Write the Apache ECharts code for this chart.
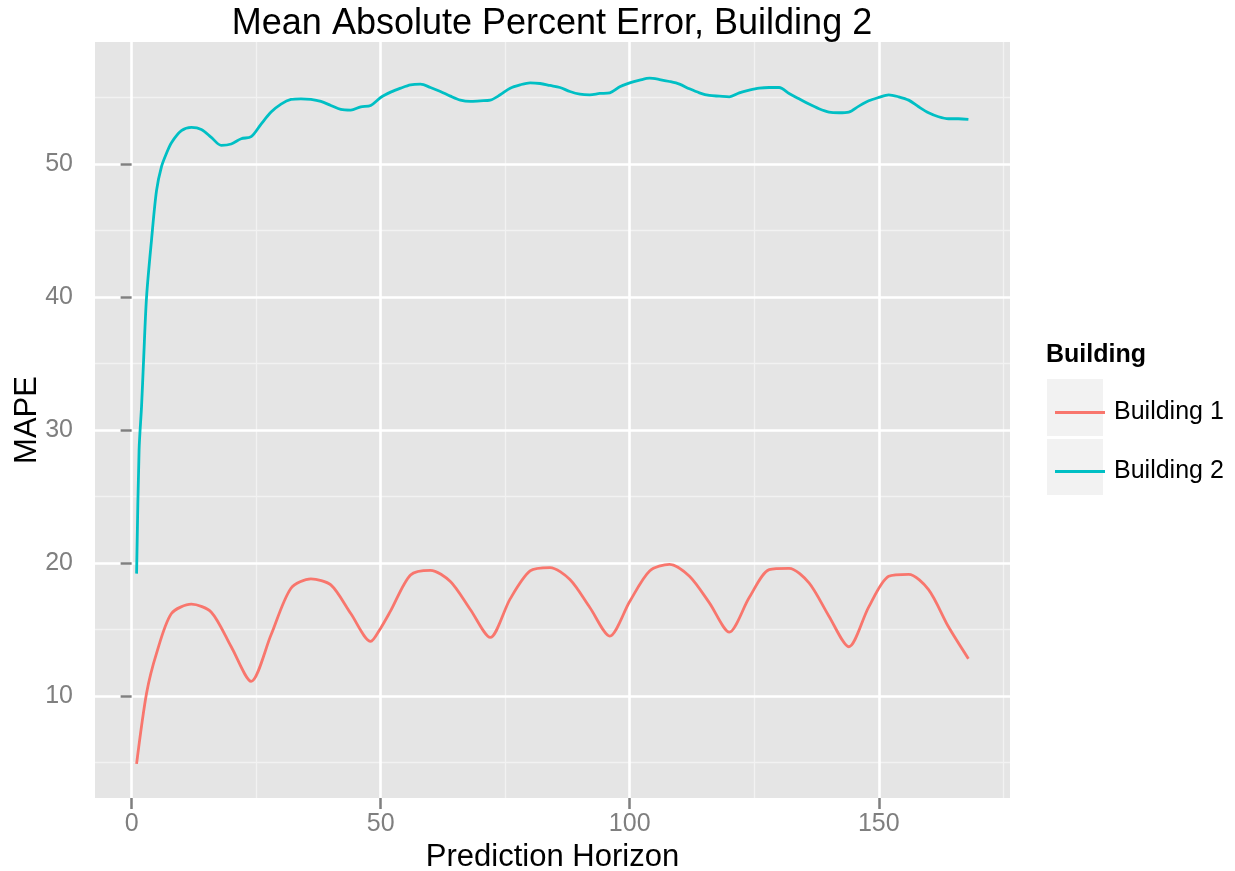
<!DOCTYPE html>
<html>
<head>
<meta charset="utf-8">
<script src="https://cdn.jsdelivr.net/npm/echarts@6/dist/echarts.min.js"></script>
<style>
html,body{margin:0;padding:0;background:#fff;}
#chart{width:1235px;height:871px;}
</style>
</head>
<body>
<div id="chart"></div>
<script>
// ---- data ----
const b1Horizon = [1,3,5,8,12,16,20,24,28,32,36,40,44,48,50,52,56,60,64,68,72,76,80,84,88,92,96,100,104,108,112,116,120,124,128,132,136,140,144,148,152,156,160,164,168];
const b1Mape    = [4.9,10.2,13.2,16.2,16.9,16.3,13.7,11.1,14.6,18.1,18.8,18.35,16.2,14.1,15.1,16.4,19.1,19.45,18.6,16.5,14.4,17.3,19.4,19.65,18.75,16.65,14.5,17.1,19.4,19.9,19.0,17.0,14.8,17.4,19.5,19.6,18.5,16.0,13.7,16.7,19.0,19.15,18.0,15.2,12.8];

const b2Horizon = [1,1.5,2,2.4,3,4,5,6,7,8,10,12,14,16,18,20,22,24,26,28,30,32,34,36,38,40,42,44,46,48,50,52,54,56,58,60,62,64,66,68,70,72,74,76,78,80,82,84,86,88,90,92,94,96,98,100,102,104,106,108,110,112,114,116,118,120,122,124,126,128,130,132,134,136,138,140,142,144,146,148,150,152,154,156,158,160,162,164,166,168];
const b2Mape    = [19.2,28.5,31.8,35.2,40.0,44.3,48.0,49.8,50.8,51.6,52.5,52.75,52.6,52.0,51.4,51.5,51.9,52.05,53.0,53.9,54.5,54.85,54.9,54.85,54.7,54.4,54.1,54.05,54.3,54.4,55.0,55.4,55.7,55.95,56.0,55.75,55.45,55.1,54.8,54.7,54.75,54.8,55.2,55.7,55.95,56.1,56.05,55.9,55.75,55.45,55.25,55.2,55.3,55.35,55.8,56.1,56.3,56.45,56.35,56.2,56.0,55.65,55.35,55.15,55.1,55.05,55.35,55.55,55.7,55.75,55.75,55.3,54.9,54.5,54.15,53.9,53.85,53.9,54.35,54.75,55.0,55.2,55.05,54.8,54.3,53.85,53.55,53.4,53.4,53.35];

const xMajorTicks = [0, 50, 100, 150];
const xMinorTicks = [25, 75, 125, 175];
const yMajorTicks = [10, 20, 30, 40, 50];
const yMinorTicks = [5, 15, 25, 35, 45, 55];

const seriesNames = ['Building 1', 'Building 2'];
const seriesColors = ['#F8766D', '#00BFC4'];
const titleText = 'Mean Absolute Percent Error, Building 2';
const xTitle = 'Prediction Horizon';
const yTitle = 'MAPE';
const legendTitle = 'Building';

const xMin = -7.35, xMax = 176.35;
const yMin = 2.33, yMax = 59.17;

const pairs = (xs, ys) => xs.map((x, i) => [x, ys[i]]);

const chart = echarts.init(document.getElementById('chart'), null, {renderer: 'canvas'});
const FONT = 'Liberation Sans, Arial, Helvetica, sans-serif';
const gridPos = {left: 95, right: 225, top: 42, bottom: 73};
const TICK = {show: true, length: 11, lineStyle: {color: '#7F7F7F', width: 2.5}};
const LABEL = {fontFamily: FONT, fontSize: 25, color: '#7F7F7F'};

function minorAxis(vals, mn, mx) {
  return {
    type: 'value', min: mn, max: mx, gridIndex: 0, z: 0,
    axisLine: {show: false},
    axisTick: {show: false, customValues: vals},
    axisLabel: {show: false, customValues: vals},
    splitLine: {show: true, lineStyle: {color: '#F2F2F2', width: 1.3}}
  };
}

const option = {
  animation: false,
  backgroundColor: '#ffffff',
  title: {
    text: titleText,
    left: 547, top: 1, textAlign: 'center',
    textStyle: {fontFamily: FONT, fontSize: 36, fontWeight: 'normal', color: '#000'}
  },
  grid: Object.assign({show: true, backgroundColor: '#E5E5E5', borderWidth: 0,
                       containLabel: false, outerBoundsMode: 'none'}, gridPos),
  xAxis: [
    minorAxis(xMinorTicks, xMin, xMax),
    {
      type: 'value', min: xMin, max: xMax, gridIndex: 0, z: 1, position: 'bottom',
      axisLine: {show: false},
      axisTick: Object.assign({customValues: xMajorTicks}, TICK),
      axisLabel: Object.assign({show: true, customValues: xMajorTicks, margin: 14}, LABEL),
      splitLine: {show: true, lineStyle: {color: '#FFFFFF', width: 2.6}},
      name: xTitle, nameLocation: 'middle', nameGap: 41,
      nameTextStyle: {fontFamily: FONT, fontSize: 31, color: '#000'}
    }
  ],
  yAxis: [
    minorAxis(yMinorTicks, yMin, yMax),
    {
      type: 'value', min: yMin, max: yMax, gridIndex: 0, z: 1, position: 'left',
      axisLine: {show: false},
      axisTick: Object.assign({customValues: yMajorTicks}, TICK),
      axisLabel: Object.assign({show: true, customValues: yMajorTicks, margin: 22}, LABEL),
      splitLine: {show: true, lineStyle: {color: '#FFFFFF', width: 2.6}},
      name: yTitle, nameLocation: 'middle', nameGap: 52, nameRotate: 90, nameMoveOverlap: false,
      nameTextStyle: {fontFamily: FONT, fontSize: 31, color: '#000'}
    }
  ],
  legend: [
    {
      orient: 'vertical', left: 1050, top: 395, icon: 'rect',
      itemWidth: 50, itemHeight: 3, data: [seriesNames[0]],
      textStyle: {fontFamily: FONT, fontSize: 25, color: '#000', padding: [0, 0, 0, 4]}
    },
    {
      orient: 'vertical', left: 1050, top: 454, icon: 'rect',
      itemWidth: 50, itemHeight: 3, data: [seriesNames[1]],
      textStyle: {fontFamily: FONT, fontSize: 25, color: '#000', padding: [0, 0, 0, 4]}
    }
  ],
  graphic: [
    {type: 'text', left: 1046, top: 343, style: {text: legendTitle, font: 'bold 25px ' + FONT, fill: '#000'}},
    {type: 'rect', left: 1047, top: 379, z: -1, shape: {width: 56, height: 57}, style: {fill: '#F2F2F2'}},
    {type: 'rect', left: 1047, top: 439, z: -1, shape: {width: 56, height: 56}, style: {fill: '#F2F2F2'}}
  ],
  series: [
    {
      name: seriesNames[0], type: 'line', xAxisIndex: 1, yAxisIndex: 1,
      data: pairs(b1Horizon, b1Mape), showSymbol: false, symbol: 'none', smooth: 0.28,
      lineStyle: {color: seriesColors[0], width: 2.8}, itemStyle: {color: seriesColors[0]}
    },
    {
      name: seriesNames[1], type: 'line', xAxisIndex: 1, yAxisIndex: 1,
      data: pairs(b2Horizon, b2Mape), showSymbol: false, symbol: 'none', smooth: 0.3,
      lineStyle: {color: seriesColors[1], width: 2.8}, itemStyle: {color: seriesColors[1]}
    }
  ]
};
chart.setOption(option);
</script>
</body>
</html>
